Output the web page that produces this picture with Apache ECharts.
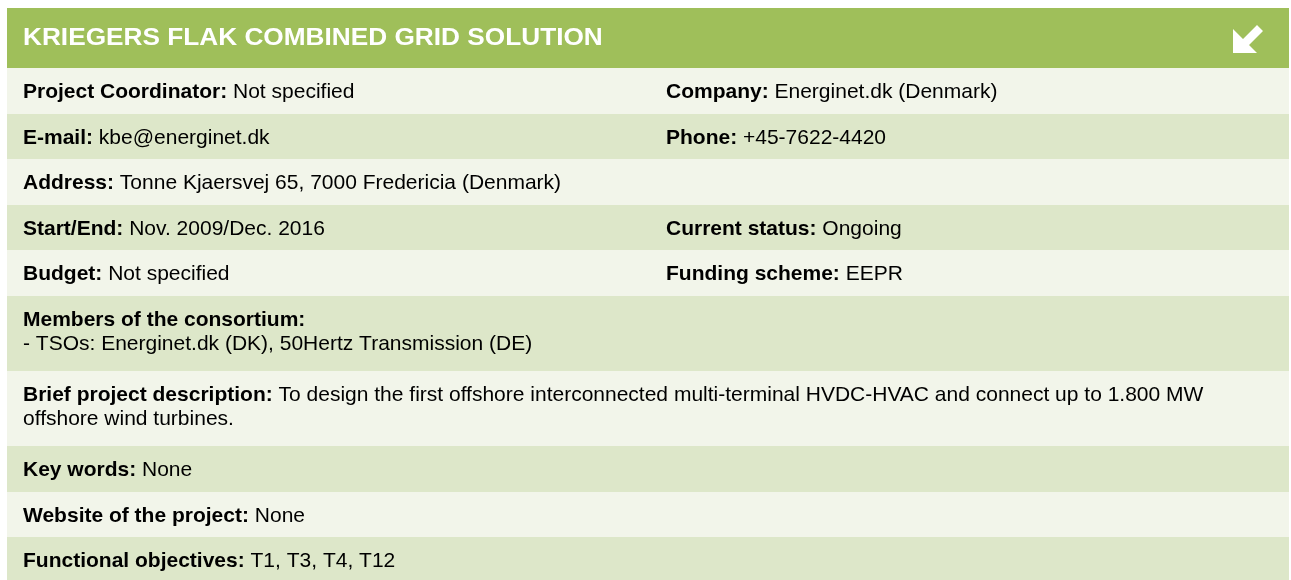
<!DOCTYPE html>
<html>
<head>
<meta charset="utf-8">
<script src="https://cdn.jsdelivr.net/npm/echarts@6/dist/echarts.min.js"></script>
<style>
  html, body { margin: 0; padding: 0; background: #ffffff; }
  #project_card { width: 1291px; height: 580px; }
</style>
</head>
<body>
<div id="project_card"></div>
<script>
// card contents
const title = 'KRIEGERS FLAK COMBINED GRID SOLUTION';
const leftLabels = ['Project Coordinator:', 'E-mail:', 'Address:', 'Start/End:', 'Budget:',
  'Members of the consortium:', 'Brief project description:', 'Key words:', 'Website of the project:', 'Functional objectives:'];
const leftValues = ['Not specified', 'kbe@energinet.dk', 'Tonne Kjaersvej 65, 7000 Fredericia (Denmark)',
  'Nov. 2009/Dec. 2016', 'Not specified', '',
  'To design the first offshore interconnected multi-terminal HVDC-HVAC and connect up to 1.800 MW',
  'None', 'None', 'T1, T3, T4, T12'];
const secondLines = ['', '', '', '', '', '- TSOs: Energinet.dk (DK), 50Hertz Transmission (DE)',
  'offshore wind turbines.', '', '', ''];
const rightLabels = ['Company:', 'Phone:', '', 'Current status:', 'Funding scheme:', '', '', '', '', ''];
const rightValues = ['Energinet.dk (Denmark)', '+45-7622-4420', '', 'Ongoing', 'EEPR', '', '', '', '', ''];

const rowTops = [68, 114, 159, 205, 250, 296, 371, 446, 492, 537];
const rowBottom = 582;

const green = '#9fbf5a';
const lightRow = '#f2f5ea';
const darkRow = '#dde7c9';
const ink = '#231f20';
const fontFamily = '"Liberation Sans", Arial, sans-serif';

const rich = {
  b: { fontWeight: 'bold', fontSize: 21, fontFamily: fontFamily, color: ink, lineHeight: 24 },
  r: { fontSize: 21, fontFamily: fontFamily, color: '#2a2627', lineHeight: 24 }
};

function cellText(label, value, extra) {
  let t = '{b|' + label + '}';
  if (value) t += '{r| ' + value + '}';
  if (extra) t += '\n{r|' + extra + '}';
  return t;
}

let graphics = [];
// header band
graphics.push({ type: 'rect', shape: { x: 7, y: 8, width: 1282, height: 60 }, style: { fill: green } });
graphics.push({
  type: 'text', x: 23, y: 39, scaleX: 1.14,
  style: { text: title, fill: '#ffffff', font: 'bold 23px ' + fontFamily, verticalAlign: 'middle' }
});
// arrow icon
graphics.push({
  type: 'polygon',
  shape: { points: [[1233, 29], [1233, 53], [1257, 53], [1249, 45], [1263, 31], [1257, 25], [1243, 39]] },
  style: { fill: '#ffffff' }
});

for (let i = 0; i < rowTops.length; i++) {
  let top = rowTops[i];
  let bottom = i + 1 < rowTops.length ? rowTops[i + 1] : rowBottom;
  graphics.push({
    type: 'rect',
    shape: { x: 7, y: top, width: 1282, height: bottom - top },
    style: { fill: i % 2 === 0 ? lightRow : darkRow }
  });
  let cy = secondLines[i] ? (top + bottom) / 2 - 1 : (top + bottom) / 2 + 1.5;
  graphics.push({
    type: 'text', x: 23, y: cy,
    style: { text: cellText(leftLabels[i], leftValues[i], secondLines[i]), rich: rich, verticalAlign: 'middle' }
  });
  if (rightLabels[i]) {
    graphics.push({
      type: 'text', x: 666, y: cy,
      style: { text: cellText(rightLabels[i], rightValues[i], ''), rich: rich, verticalAlign: 'middle' }
    });
  }
}

const cardChart = echarts.init(document.getElementById('project_card'));
cardChart.setOption({ animation: false, graphic: { elements: graphics } });
</script>
</body>
</html>
